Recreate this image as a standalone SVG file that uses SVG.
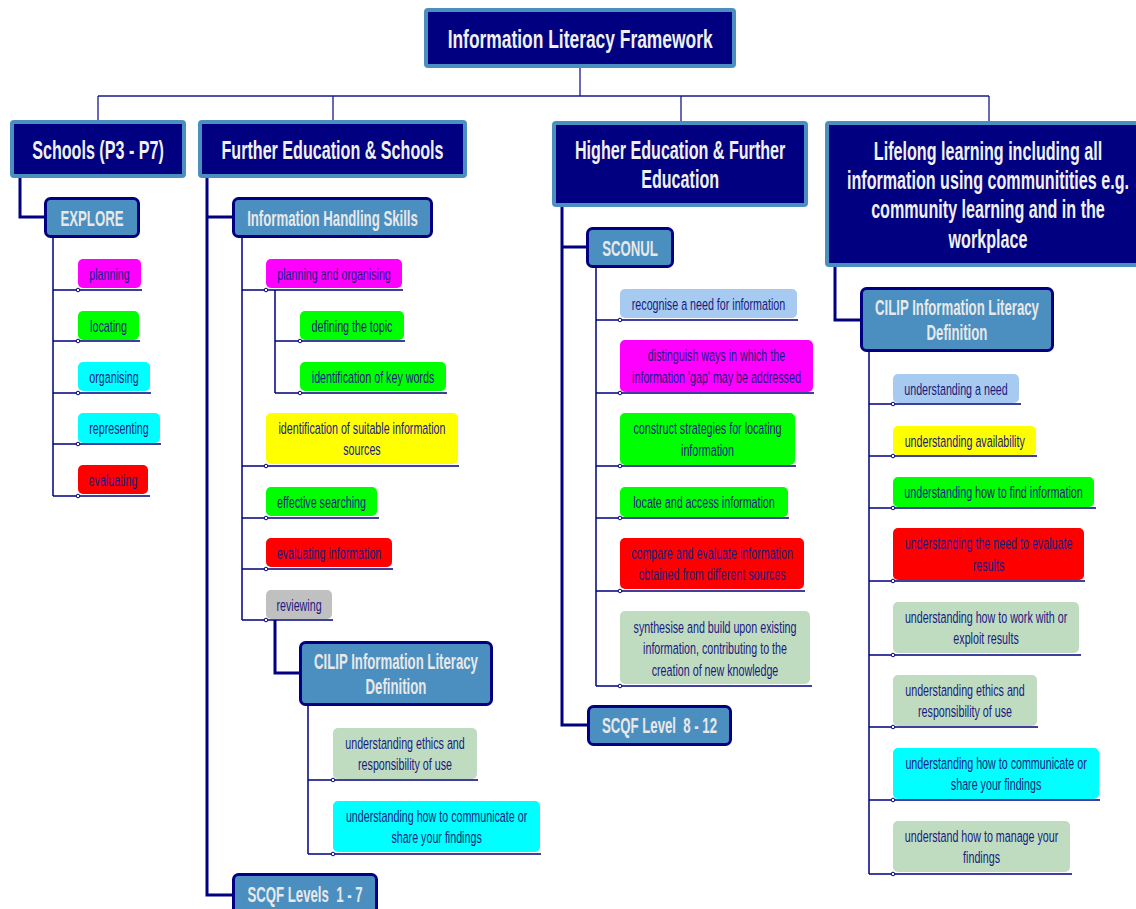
<svg xmlns="http://www.w3.org/2000/svg" width="1136" height="909" viewBox="0 0 1136 909">
<style>
.hd{fill:#000080;stroke:#4A8FC0;stroke-width:4}
.sh{fill:#4A8FC0;stroke:#000080;stroke-width:3}
.lf{stroke:none}
.ht{font-family:"Liberation Sans",Arial,sans-serif;font-weight:bold;font-size:26px;fill:#F0F0F0;text-anchor:middle;transform-box:fill-box;transform-origin:center;transform:scaleX(0.62)}
.tt{transform:scaleX(0.67)}
.st{font-family:"Liberation Sans",Arial,sans-serif;font-weight:bold;font-size:22px;fill:#E8E8E8;text-anchor:middle;transform-box:fill-box;transform-origin:center;transform:scaleX(0.6);white-space:pre}
.lt{font-family:"Liberation Sans",Arial,sans-serif;font-size:17px;fill:#1a1a80;text-anchor:middle;transform-box:fill-box;transform-origin:center;transform:scaleX(0.63)}
.thin{stroke:#000080;stroke-width:1.5;fill:none}
.top{stroke:#1a1a8c;stroke-width:1.3;fill:none}
.thick{stroke:#000080;stroke-width:3;fill:none}
.dot{fill:#ffffff;stroke:#000080;stroke-width:1}
.mg{fill:#FF00FF}.gr{fill:#00FF00}.cy{fill:#00FFFF}.rd{fill:#FF0000}.ye{fill:#FFFF00}.gy{fill:#C0C0C0}.lb{fill:#A6CAF0}.pg{fill:#C0DCC0}
</style>
<rect width="1136" height="909" fill="#ffffff"/>
<g id="connectors">
<path class="top" d="M580,68V96M98,96H989M98,96V121M333,96V121M681,96V122M989,96V122"/>
<path class="thick" d="M20,178V217H45"/>
<path class="thick" d="M207,178V895H233M207,217H233"/>
<path class="thick" d="M562,207V725H588M562,247H587"/>
<path class="thick" d="M835,267V320H861"/>
<path class="thick" d="M275,620V673H300"/>
<path class="thin" d="M53,238V496M53,290H142M53,341H140M53,393H151M53,444H161M53,496H150"/>
<path class="thin" d="M242,238V620M242,290H403M242,466H459M242,518H379M242,569H393M242,620H333"/>
<path class="thin" d="M275,290V393M275,341H405M275,393H447"/>
<path class="thin" d="M308,706V854M308,780H478M308,854H541"/>
<path class="thin" d="M596,268V686M596,320H798M596,393H814M596,466H796M596,518H789M596,591H805M596,686H812"/>
<path class="thin" d="M869,352V874M869,404H1021M869,456H1037M869,508H1096M869,581H1085M869,655H1081M869,727H1038M869,800H1100M869,874H1072"/>
</g>
<g id="title"><rect class="hd" x="426" y="10" width="308" height="56" rx="2"/><text class="ht tt" x="580" y="48">Information Literacy Framework</text></g>
<g id="schools"><rect class="hd" x="12" y="122" width="172" height="54" rx="2"/><text class="ht" x="98" y="159">Schools (P3 - P7)</text></g>
<g id="further-education"><rect class="hd" x="200" y="122" width="265" height="54" rx="2"/><text class="ht" x="332.5" y="159">Further Education &amp; Schools</text></g>
<g id="higher-education"><rect class="hd" x="554" y="123" width="252" height="82" rx="2"/><text class="ht" x="680" y="159">Higher Education &amp; Further<tspan x="680" y="188">Education</tspan></text></g>
<g id="lifelong"><rect class="hd" x="827" y="123" width="330" height="142" rx="2"/><text class="ht" x="988" y="160">Lifelong learning including all<tspan x="988" y="189">information using communitities e.g.</tspan><tspan x="988" y="218">community learning and in the</tspan><tspan x="988" y="248">workplace</tspan></text></g>
<g id="explore"><rect class="sh" x="45.5" y="198.5" width="93" height="38" rx="5"/><text class="st" x="92" y="226">EXPLORE</text></g>
<g id="ihs"><rect class="sh" x="233.5" y="198.5" width="198" height="38" rx="5"/><text class="st" x="332.5" y="226">Information Handling Skills</text></g>
<g id="cilip-fe"><rect class="sh" x="300.5" y="642.5" width="191" height="62" rx="5"/><text class="st" x="396" y="669">CILIP Information Literacy<tspan x="396" y="694">Definition</tspan></text></g>
<g id="scqf-1-7"><rect class="sh" x="233.5" y="874.5" width="143" height="50" rx="5"/><text class="st" x="305" y="902">SCQF Levels  1 - 7</text></g>
<g id="sconul"><rect class="sh" x="587.5" y="228.5" width="85" height="38" rx="5"/><text class="st" x="630" y="256">SCONUL</text></g>
<g id="scqf-8-12"><rect class="sh" x="588.5" y="706.5" width="142" height="38" rx="5"/><text class="st" x="659.5" y="733">SCQF Level  8 - 12</text></g>
<g id="cilip-ll"><rect class="sh" x="861.5" y="288.5" width="191" height="62" rx="5"/><text class="st" x="957" y="315">CILIP Information Literacy<tspan x="957" y="340">Definition</tspan></text></g>

<g id="s-planning"><rect class="lf mg" x="78" y="259" width="63" height="29" rx="5"/><text class="lt" x="109.5" y="280">planning</text><circle class="dot" cx="78" cy="290" r="1.8"/></g>
<g id="s-locating"><rect class="lf gr" x="78" y="311" width="61" height="29" rx="5"/><text class="lt" x="108.5" y="332">locating</text><circle class="dot" cx="78" cy="341" r="1.8"/></g>
<g id="s-organising"><rect class="lf cy" x="78" y="362" width="72" height="29" rx="5"/><text class="lt" x="114" y="383">organising</text><circle class="dot" cx="78" cy="393" r="1.8"/></g>
<g id="s-representing"><rect class="lf cy" x="78" y="413" width="82" height="30" rx="5"/><text class="lt" x="119" y="434.5">representing</text><circle class="dot" cx="78" cy="444" r="1.8"/></g>
<g id="s-evaluating"><rect class="lf rd" x="78" y="465" width="70" height="29" rx="5"/><text class="lt" x="113" y="486">evaluating</text><circle class="dot" cx="78" cy="496" r="1.8"/></g>

<g id="f-planning"><rect class="lf mg" x="266" y="259" width="136" height="29" rx="5"/><text class="lt" x="334" y="280">planning and organising</text><circle class="dot" cx="266" cy="290" r="1.8"/></g>
<g id="f-defining"><rect class="lf gr" x="300" y="311" width="104" height="29" rx="5"/><text class="lt" x="352" y="332">defining the topic</text><circle class="dot" cx="300" cy="341" r="1.8"/></g>
<g id="f-keywords"><rect class="lf gr" x="300" y="362" width="146" height="29" rx="5"/><text class="lt" x="373" y="383">identification of key words</text><circle class="dot" cx="300" cy="393" r="1.8"/></g>
<g id="f-sources"><rect class="lf ye" x="266" y="413" width="192" height="51" rx="5"/><text class="lt" x="362" y="434">identification of suitable information<tspan x="362" y="455.5">sources</tspan></text><circle class="dot" cx="266" cy="466" r="1.8"/></g>
<g id="f-searching"><rect class="lf gr" x="266" y="487" width="111" height="29" rx="5"/><text class="lt" x="321.5" y="508">effective searching</text><circle class="dot" cx="266" cy="518" r="1.8"/></g>
<g id="f-evaluating"><rect class="lf rd" x="266" y="538" width="126" height="29" rx="5"/><text class="lt" x="329" y="559">evaluating information</text><circle class="dot" cx="266" cy="569" r="1.8"/></g>
<g id="f-reviewing"><rect class="lf gy" x="266" y="590" width="66" height="29" rx="5"/><text class="lt" x="299" y="611">reviewing</text><circle class="dot" cx="266" cy="620" r="1.8"/></g>
<g id="f-ethics"><rect class="lf pg" x="333" y="728" width="144" height="51" rx="5"/><text class="lt" x="405" y="749">understanding ethics and<tspan x="405" y="770.5">responsibility of use</tspan></text><circle class="dot" cx="333" cy="780" r="1.8"/></g>
<g id="f-communicate"><rect class="lf cy" x="333" y="801" width="207" height="51" rx="5"/><text class="lt" x="436.5" y="822">understanding how to communicate or<tspan x="436.5" y="843.5">share your findings</tspan></text><circle class="dot" cx="333" cy="854" r="1.8"/></g>

<g id="h-recognise"><rect class="lf lb" x="620" y="289" width="177" height="29" rx="5"/><text class="lt" x="708.5" y="310.5">recognise a need for information</text><circle class="dot" cx="620" cy="320" r="1.8"/></g>
<g id="h-distinguish"><rect class="lf mg" x="620" y="340" width="193" height="52" rx="5"/><text class="lt" x="716.5" y="361.5">distinguish ways in which the<tspan x="716.5" y="383">information 'gap' may be addressed</tspan></text><circle class="dot" cx="620" cy="393" r="1.8"/></g>
<g id="h-construct"><rect class="lf gr" x="620" y="413" width="175" height="52" rx="5"/><text class="lt" x="707.5" y="434.5">construct strategies for locating<tspan x="707.5" y="456">information</tspan></text><circle class="dot" cx="620" cy="466" r="1.8"/></g>
<g id="h-locate"><rect class="lf gr" x="620" y="487" width="168" height="30" rx="5"/><text class="lt" x="704" y="508.5">locate and access information</text><circle class="dot" cx="620" cy="518" r="1.8"/></g>
<g id="h-compare"><rect class="lf rd" x="620" y="538" width="184" height="51" rx="5"/><text class="lt" x="712" y="559">compare and evaluate information<tspan x="712" y="580.5">obtained from different sources</tspan></text><circle class="dot" cx="620" cy="591" r="1.8"/></g>
<g id="h-synthesise"><rect class="lf pg" x="620" y="611" width="190" height="73" rx="5"/><text class="lt" x="715" y="633">synthesise and build upon existing<tspan x="715" y="654.5">information, contributing to the</tspan><tspan x="715" y="676">creation of new knowledge</tspan></text><circle class="dot" cx="620" cy="686" r="1.8"/></g>

<g id="l-need"><rect class="lf lb" x="893" y="374" width="126" height="29" rx="5"/><text class="lt" x="956" y="395">understanding a need</text><circle class="dot" cx="893" cy="404" r="1.8"/></g>
<g id="l-availability"><rect class="lf ye" x="893" y="426" width="143" height="29" rx="5"/><text class="lt" x="964.5" y="447">understanding availability</text><circle class="dot" cx="893" cy="456" r="1.8"/></g>
<g id="l-find"><rect class="lf gr" x="893" y="477" width="201" height="30" rx="5"/><text class="lt" x="993.5" y="498.5">understanding how to find information</text><circle class="dot" cx="893" cy="508" r="1.8"/></g>
<g id="l-evaluate"><rect class="lf rd" x="893" y="528" width="191" height="52" rx="5"/><text class="lt" x="988.5" y="549.5">understanding the need to evaluate<tspan x="988.5" y="571">results</tspan></text><circle class="dot" cx="893" cy="581" r="1.8"/></g>
<g id="l-exploit"><rect class="lf pg" x="893" y="602" width="186" height="51" rx="5"/><text class="lt" x="986" y="623">understanding how to work with or<tspan x="986" y="644.5">exploit results</tspan></text><circle class="dot" cx="893" cy="655" r="1.8"/></g>
<g id="l-ethics"><rect class="lf pg" x="893" y="675" width="144" height="51" rx="5"/><text class="lt" x="965" y="696">understanding ethics and<tspan x="965" y="717.5">responsibility of use</tspan></text><circle class="dot" cx="893" cy="727" r="1.8"/></g>
<g id="l-communicate"><rect class="lf cy" x="893" y="748" width="206" height="51" rx="5"/><text class="lt" x="996" y="769">understanding how to communicate or<tspan x="996" y="790.5">share your findings</tspan></text><circle class="dot" cx="893" cy="800" r="1.8"/></g>
<g id="l-manage"><rect class="lf pg" x="893" y="821" width="177" height="51" rx="5"/><text class="lt" x="981.5" y="842">understand how to manage your<tspan x="981.5" y="863.5">findings</tspan></text><circle class="dot" cx="893" cy="874" r="1.8"/></g>
</svg>
